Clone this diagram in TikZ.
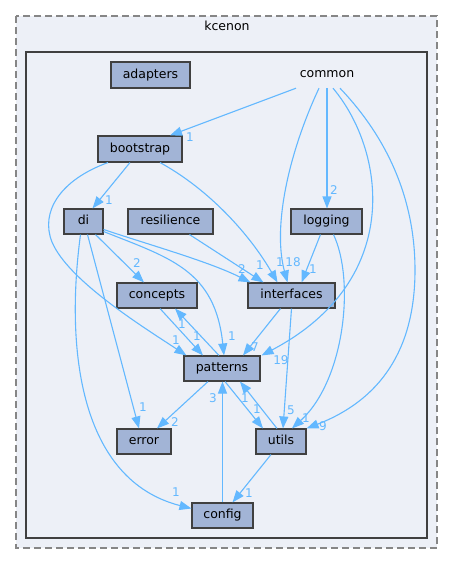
\documentclass[tikz,border=0pt]{standalone}
\usepackage{fontspec}
\setmainfont{DejaVu Sans}
\usetikzlibrary{arrows.meta}
\definecolor{nodefill}{HTML}{A2B4D6}
\definecolor{nodeline}{HTML}{404040}
\definecolor{edgecol}{HTML}{63B8FF}
\definecolor{clfill}{HTML}{EDF0F7}
\definecolor{clouter}{HTML}{868686}
\definecolor{clinner}{HTML}{404040}
\tikzset{
  dirbox/.style={draw=nodeline, line width=1.1pt, fill=nodefill, inner sep=0pt,
    minimum height=25pt, text height=9pt, text depth=2.5pt,
    font=\fontsize{12.5}{15}\selectfont},
  plainlbl/.style={inner sep=0pt, text height=9pt, text depth=2.5pt,
    font=\fontsize{12.5}{15}\selectfont},
  edge/.style={draw=edgecol, line width=1.1pt, -{Triangle[length=12pt,width=9pt]}},
  lbl/.style={text=edgecol, inner sep=0pt, font=\fontsize{12}{14}\selectfont}
}
\begin{document}
\begin{tikzpicture}[x=1pt,y=-1pt]
\useasboundingbox (0,0) rectangle (453,565);
% clusters
\path[fill=clfill, draw=clouter, line width=1.2pt, dash pattern=on 7pt off 4pt] (16,16) rectangle (437,548);
\node[plainlbl] (kcenon) at (227,27) {kcenon};
\path[fill=clfill, draw=clinner, line width=2pt] (26,52) rectangle (427,538);
% nodes
\node[plainlbl, minimum height=28pt] (common) at (327,74) {common};
\node[dirbox, minimum width=79pt, minimum height=26pt] (adapters) at (150.5,75) {adapters};
\node[dirbox, minimum width=84pt, minimum height=26pt] (bootstrap) at (140,149) {bootstrap};
\node[dirbox, minimum width=39pt] (di) at (83.5,221.5) {di};
\node[dirbox, minimum width=85pt] (resilience) at (170.5,221.5) {resilience};
\node[dirbox, minimum width=71pt] (logging) at (326.5,221.5) {logging};
\node[dirbox, minimum width=80pt] (concepts) at (157,295.5) {concepts};
\node[dirbox, minimum width=87pt] (interfaces) at (291.5,295.5) {interfaces};
\node[dirbox, minimum width=76pt] (patterns) at (222,368.5) {patterns};
\node[dirbox, minimum width=54pt] (error) at (144,441.5) {error};
\node[dirbox, minimum width=50pt] (utils) at (281,441.5) {utils};
\node[dirbox, minimum width=61pt] (config) at (222.5,515.5) {config};
% edges from common
\draw[edge] ([xshift=-31pt]common.south) -- ([xshift=30pt]bootstrap.north)
  node[lbl] (l1) at (190,137) {1};
\draw[edge] (common.south) -- (common.south |- logging.north)
  node[lbl] (l2) at (334,190) {2};
\draw[edge] ([xshift=-8pt]common.south) .. controls (290,150) and (272,225) .. ([xshift=-4pt]interfaces.north)
  node[lbl] (l4) at (293,262) {18};
\draw[edge] ([xshift=6pt]common.south) .. controls (385,150) and (405,280) .. ([xshift=1pt]patterns.north east)
  node[lbl] (l5) at (281,360) {19};
\draw[edge] ([xshift=13pt]common.south) .. controls (380,130) and (415,190) .. (415,270)
  .. controls (415,350) and (380,400) .. (utils.north east)
  node[lbl] (l6) at (323,426) {9};
% edges from bootstrap
\draw[edge] ([xshift=-10pt]bootstrap.south) -- ([xshift=9pt]di.north)
  node[lbl] (l7) at (109,200) {1};
\draw[edge] ([xshift=-32pt]bootstrap.south) .. controls (60,180) and (40,212) .. (52,242)
  .. controls (68,280) and (140,325) .. ([xshift=3pt]patterns.north west)
  node[lbl] (l8) at (176,340) {1};
\draw[edge] ([xshift=20pt]bootstrap.south) .. controls (210,190) and (250,235) .. ([xshift=-14pt]interfaces.north)
  node[lbl] (l3) at (280,262) {1};
% edges from di
\draw[edge] ([xshift=12pt]di.south) -- ([xshift=-13pt]concepts.north)
  node[lbl] (l9) at (137,263) {2};
\draw[edge] ([yshift=-8pt]di.east) .. controls (150,245) and (210,262) .. ([xshift=-41pt]interfaces.north)
  node[lbl] (l10) at (242,269) {2};
\draw[edge] ([yshift=-10pt]di.east) .. controls (170,258) and (215,270) .. ([xshift=2pt]patterns.north)
  node[lbl] (l11) at (232,336) {1};
\draw[edge] ([xshift=4pt]di.south) -- ([xshift=-5pt]error.north)
  node[lbl] (l12) at (143,407) {1};
\draw[edge] ([xshift=-3pt]di.south) .. controls (65,350) and (80,480) .. ([yshift=7pt]config.west)
  node[lbl] (l13) at (176,492) {1};
% resilience, logging
\draw[edge] ([xshift=19pt]resilience.south) -- ([xshift=-28pt]interfaces.north)
  node[lbl] (l14) at (260,265) {1};
\draw[edge] ([xshift=-6pt]logging.south) -- ([xshift=10pt]interfaces.north)
  node[lbl] (l15) at (313,269) {1};
\draw[edge] ([xshift=7pt]logging.south) .. controls (355,280) and (345,380) .. ([xshift=11pt]utils.north)
  node[lbl] (l16) at (306,418) {1};
% interfaces
\draw[edge] ([xshift=-11pt]interfaces.south) -- ([xshift=21pt]patterns.north)
  node[lbl] (l17) at (255,347) {7};
\draw[edge] (interfaces.south) -- ([xshift=2pt]utils.north)
  node[lbl] (l18) at (291,410) {5};
% concepts <-> patterns
\draw[edge] ([xshift=3pt]concepts.south) -- ([xshift=-19pt]patterns.north)
  node[lbl] (l19) at (197,336) {1};
\draw[edge] ([xshift=-3pt]patterns.north) -- ([xshift=18pt]concepts.south)
  node[lbl] (l20) at (182,324) {1};
% patterns outgoing
\draw[edge] ([xshift=-14pt]patterns.south) -- ([xshift=13pt]error.north)
  node[lbl] (l21) at (175,422) {2};
\draw[edge] ([xshift=3pt]patterns.south) -- ([xshift=-18pt]utils.north)
  node[lbl] (l22) at (257,409) {1};
\draw[edge] ([xshift=-4pt]utils.north) -- ([xshift=18pt]patterns.south)
  node[lbl] (l23) at (245,398) {1};
\draw[edge] (config.north) -- (config.north |- patterns.south)
  node[lbl] (l24) at (213,398) {3};
\draw[edge] ([xshift=-10pt]utils.south) -- ([xshift=10pt]config.north)
  node[lbl] (l25) at (249,493) {1};
\end{tikzpicture}
\end{document}
